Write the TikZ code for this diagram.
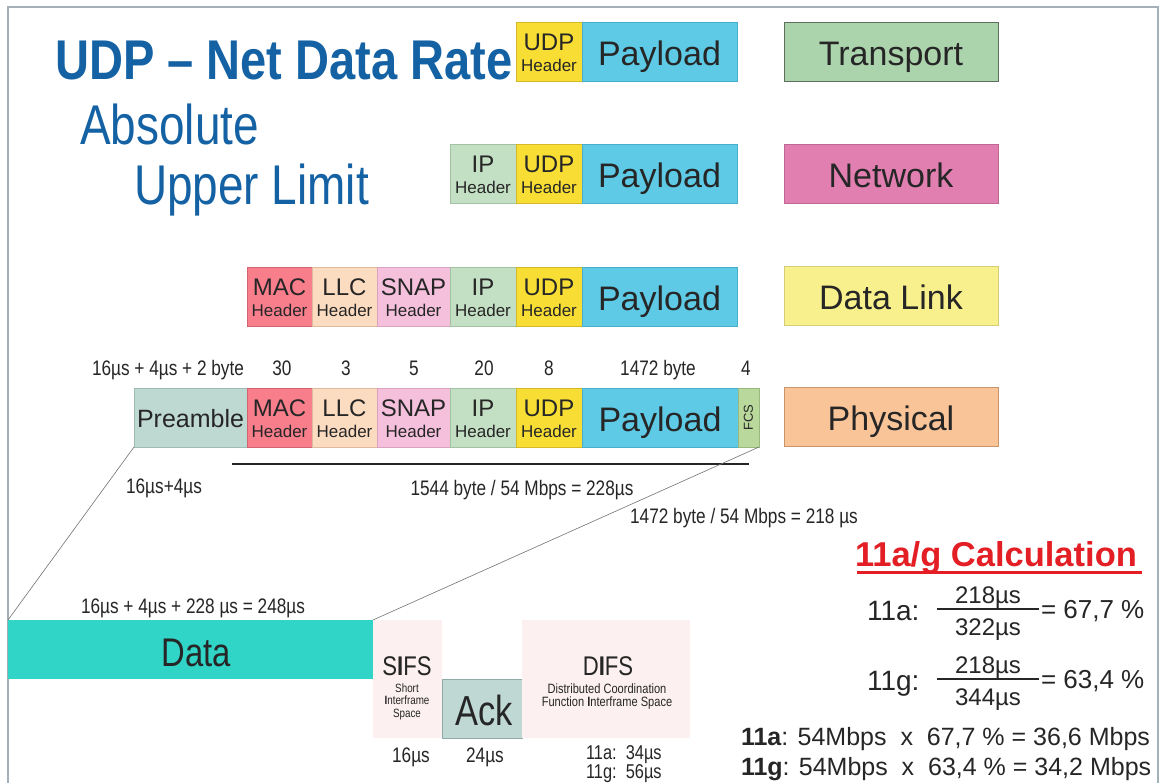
\documentclass[tikz,border=0pt]{standalone}
\usepackage{fontspec}
\setmainfont{Liberation Sans}
\newfontfamily\narrowf[FakeStretch=0.82]{Liberation Sans}
\newfontfamily\titlef[FakeStretch=0.84]{Liberation Sans}
\usetikzlibrary{calc}
\newcommand{\fsz}[1]{\fontsize{#1}{#1}\selectfont}
\definecolor{ctext}{HTML}{262626}
\definecolor{ctitle}{HTML}{1462A4}
\definecolor{cframe}{HTML}{A4B0B8}
\definecolor{cUDP}{HTML}{F8DE34}\definecolor{cUDPd}{HTML}{D4B828}
\definecolor{cPay}{HTML}{5ECAE6}\definecolor{cPayd}{HTML}{48AECC}
\definecolor{cIP}{HTML}{C4E0C4}\definecolor{cIPd}{HTML}{A2C2A2}
\definecolor{cMAC}{HTML}{F87E8C}\definecolor{cMACd}{HTML}{D06472}
\definecolor{cLLC}{HTML}{FCDCC0}\definecolor{cLLCd}{HTML}{E0BA9C}
\definecolor{cSNAP}{HTML}{F4C0DC}\definecolor{cSNAPd}{HTML}{D8A2C0}
\definecolor{cPre}{HTML}{BED8D2}\definecolor{cPred}{HTML}{9EBCB6}
\definecolor{cFCS}{HTML}{B8D89C}\definecolor{cFCSd}{HTML}{98B880}
\definecolor{cTr}{HTML}{ACD4AC}\definecolor{cTrd}{HTML}{5E6E5E}
\definecolor{cNet}{HTML}{E07FB0}\definecolor{cNetd}{HTML}{C06894}
\definecolor{cDL}{HTML}{F8F08C}\definecolor{cDLd}{HTML}{D6CC78}
\definecolor{cPhy}{HTML}{F8C498}\definecolor{cPhyd}{HTML}{C8946C}
\definecolor{cData}{HTML}{30D5C8}
\definecolor{cIFS}{HTML}{FCF0F0}
\definecolor{cAck}{HTML}{C0D8D4}\definecolor{cAckd}{HTML}{90ACA8}
\definecolor{cRed}{HTML}{E31E24}
\tikzset{
  cell/.style={inner sep=0, outer sep=0, minimum height=59, anchor=north west, line width=0.8},
  udpc/.style={cell, fill=cUDP, draw=cUDPd},
  payc/.style={cell, fill=cPay, draw=cPayd},
  ipc/.style={cell, fill=cIP, draw=cIPd},
  macc/.style={cell, fill=cMAC, draw=cMACd},
  llcc/.style={cell, fill=cLLC, draw=cLLCd},
  snapc/.style={cell, fill=cSNAP, draw=cSNAPd},
  prec/.style={cell, fill=cPre, draw=cPred},
  fcsc/.style={cell, fill=cFCS, draw=cFCSd},
  trc/.style={cell, fill=cTr, draw=cTrd},
  netc/.style={cell, fill=cNet, draw=cNetd},
  dlc/.style={cell, fill=cDL, draw=cDLd},
  phyc/.style={cell, fill=cPhy, draw=cPhyd},
  txt/.style={inner sep=0, outer sep=0, text=ctext, anchor=base},
  bigt/.style={txt, font=\fsz{24}},
  hdt/.style={txt, font=\fsz{17}},
  payt/.style={txt, font=\fsz{34}},
  lbl/.style={txt, font=\narrowf\fsz{21}},
  thin/.style={draw=black!55, line width=0.6},
  frame/.style={draw=cframe, line width=1.4},
}
\newcommand{\hcell}[6]{%
  \node[#5, minimum width=#4] (#1) at (#2,#3) {};
  \node[bigt] (#1t) at ($(#1.north)+(0,29)$) {#6};
  \node[hdt] (#1h) at ($(#1.north)+(0,50)$) {Header};
}
\newcommand{\tcell}[6]{%
  \node[#5, minimum width=#4] (#1) at (#2,#3) {};
  \node[payt] (#1t) at ($(#1.north)+(0,44)$) {#6};
}
\begin{document}
\begin{tikzpicture}[x=1pt,y=-1pt]
\useasboundingbox (0,0) rectangle (1163,783);
\fill[white] (0,0) rectangle (1163,783);
\draw[frame] (8,783) -- (8,7) -- (1158,7) -- (1158,783);

% title
\node[inner sep=0, anchor=base west, text=ctitle, font=\titlef\bfseries\fsz{56}] (title) at (55,80) {UDP – Net Data Rate};
\node[inner sep=0, anchor=base west, text=ctitle, font=\narrowf\fsz{56}] (abs) at (80,145) {Absolute};
\node[inner sep=0, anchor=base west, text=ctitle, font=\narrowf\fsz{56}] (upl) at (134,205) {Upper Limit};

% transport row
\hcell{tu}{516}{22}{66}{udpc}{UDP}
\tcell{tp}{582}{22}{155}{payc}{Payload}
\tcell{tl}{784}{22}{214}{trc}{Transport}

% network row
\hcell{ni}{450}{144}{66}{ipc}{IP}
\hcell{nu}{516}{144}{66}{udpc}{UDP}
\tcell{np}{582}{144}{155}{payc}{Payload}
\tcell{nl}{784}{144}{214}{netc}{Network}

% data link row
\hcell{dm}{247}{267}{65}{macc}{MAC}
\hcell{dl}{312}{267}{65}{llcc}{LLC}
\hcell{ds}{377}{267}{73}{snapc}{SNAP}
\hcell{di}{450}{267}{66}{ipc}{IP}
\hcell{du}{516}{267}{66}{udpc}{UDP}
\tcell{dp}{582}{267}{155}{payc}{Payload}
\tcell{dd}{784}{266}{214}{dlc}{Data Link}

% physical row
\node[prec, minimum width=113] (pp) at (134,388) {};
\node[txt, font=\fsz{25}] (ppt) at ($(pp.north)+(0,40)$) {Preamble};
\hcell{pm}{247}{388}{65}{macc}{MAC}
\hcell{pl}{312}{388}{65}{llcc}{LLC}
\hcell{ps}{377}{388}{73}{snapc}{SNAP}
\hcell{pi}{450}{388}{66}{ipc}{IP}
\hcell{pu}{516}{388}{66}{udpc}{UDP}
\tcell{pd}{582}{388}{156}{payc}{Payload}
\node[fcsc, minimum width=21] (pf) at (738,388) {};
\node[inner sep=0, text=ctext, font=\fsz{13}, rotate=90] (pft) at (pf.center) {FCS};
\tcell{ph}{784}{387}{214}{phyc}{Physical}

% sizes above physical row
\node[lbl] (s0) at (168,376) {16µs + 4µs + 2 byte};
\node[lbl] (s1) at (282,376) {30};
\node[lbl] (s2) at (346,376) {3};
\node[lbl] (s3) at (414,376) {5};
\node[lbl] (s4) at (484,376) {20};
\node[lbl] (s5) at (549,376) {8};
\node[lbl] (s6) at (658,376) {1472 byte};
\node[lbl] (s7) at (746,376) {4};

% bar and labels
\coordinate (barL) at (232,464);
\coordinate (barR) at (749,464);
\draw[line width=2.6, draw=black!85] (barL) -- (barR);
\node[lbl] (l1) at (164,494) {16µs+4µs};
\node[lbl] (l2) at (522,496) {1544 byte / 54 Mbps = 228µs};
\node[lbl] (l3) at (744,524) {1472 byte / 54 Mbps = 218 µs};
\node[lbl] (l4) at (193,613) {16µs + 4µs + 228 µs = 248µs};

% timeline
\node[inner sep=0, outer sep=0, anchor=north west, fill=cData, minimum width=365, minimum height=59] (data) at (8,620) {};
\node[txt, font=\narrowf\fsz{40}] (datat) at (196,666) {Data};
\node[inner sep=0, outer sep=0, anchor=north west, fill=cIFS, minimum width=69, minimum height=118] (sifs) at (373,620) {};
\node[inner sep=0, outer sep=0, anchor=north west, fill=cAck, draw=cAckd, line width=0.8, minimum width=80, minimum height=59] (ack) at (442,679) {};
\node[inner sep=0, outer sep=0, anchor=north west, fill=cIFS, minimum width=168, minimum height=118] (difs) at (522,620) {};
\node[txt, font=\narrowf\fsz{42}] (ackt) at (484,725) {Ack};
\node[txt, font=\narrowf\fsz{27}] (sifst) at (407,675) {S{\bfseries I}FS};
\node[txt, font=\narrowf\fsz{12}] (sifs1) at (407,692) {Short};
\node[txt, font=\narrowf\fsz{12}] (sifs2) at (407,704.5) {{\bfseries I}nterframe};
\node[txt, font=\narrowf\fsz{12}] (sifs3) at (407,717) {Space};
\node[txt, font=\narrowf\fsz{27}] (difst) at (608,675) {D{\bfseries I}FS};
\node[txt, font=\narrowf\fsz{13.5}] (difs1) at (607,693) {Distributed Coordination};
\node[txt, font=\narrowf\fsz{13.5}] (difs2) at (607,706) {Function {\bfseries I}nterframe Space};
\node[lbl] (t1) at (411,762) {16µs};
\node[lbl] (t2) at (485,762) {24µs};
\node[txt, font=\narrowf\fsz{20}, anchor=base west] (t3) at (586,759) {11a:\ \ 34µs};
\node[txt, font=\narrowf\fsz{20}, anchor=base west] (t4) at (586,778.5) {11g:\ \ 56µs};

\draw[thin] (pp.south west) -- (data.north west);
\draw[thin] (pf.south east) -- (data.north east);

% calculation
\node[inner sep=0, anchor=base, text=cRed, font=\bfseries\fsz{34.5}] (calc) at (996,566) {11a/g Calculation};
\coordinate (ulL) at (857,573);
\coordinate (ulR) at (1142,573);
\draw[draw=cRed, line width=3] (ulL) -- (ulR);

\node[txt, anchor=base west, font=\fsz{28}] (a1) at (867,620) {11a:};
\node[txt, font=\fsz{24}] (a2) at (988,603) {218µs};
\node[txt, font=\fsz{24}] (a3) at (988,635) {322µs};
\coordinate (faL) at (937,609);
\coordinate (faR) at (1039,609);
\draw[line width=2, draw=ctext] (faL) -- (faR);
\node[txt, anchor=base west, font=\fsz{26}] (a4) at (1041,618) {= 67,7 \%};

\node[txt, anchor=base west, font=\fsz{28}] (g1) at (867,690) {11g:};
\node[txt, font=\fsz{24}] (g2) at (988,673) {218µs};
\node[txt, font=\fsz{24}] (g3) at (988,705) {344µs};
\coordinate (fgL) at (937,679);
\coordinate (fgR) at (1039,679);
\draw[line width=2, draw=ctext] (fgL) -- (fgR);
\node[txt, anchor=base west, font=\fsz{26}] (g4) at (1041,688) {= 63,4 \%};

\node[txt, anchor=base west, font=\fsz{25}] (r1) at (741,745) {\textbf{11a}: 54Mbps\ \ x\ \ 67,7 \% = 36,6 Mbps};
\node[txt, anchor=base west, font=\fsz{25}] (r2) at (741,775) {\textbf{11g}: 54Mbps\ \ x\ \ 63,4 \% = 34,2 Mbps};
\end{tikzpicture}
\end{document}
